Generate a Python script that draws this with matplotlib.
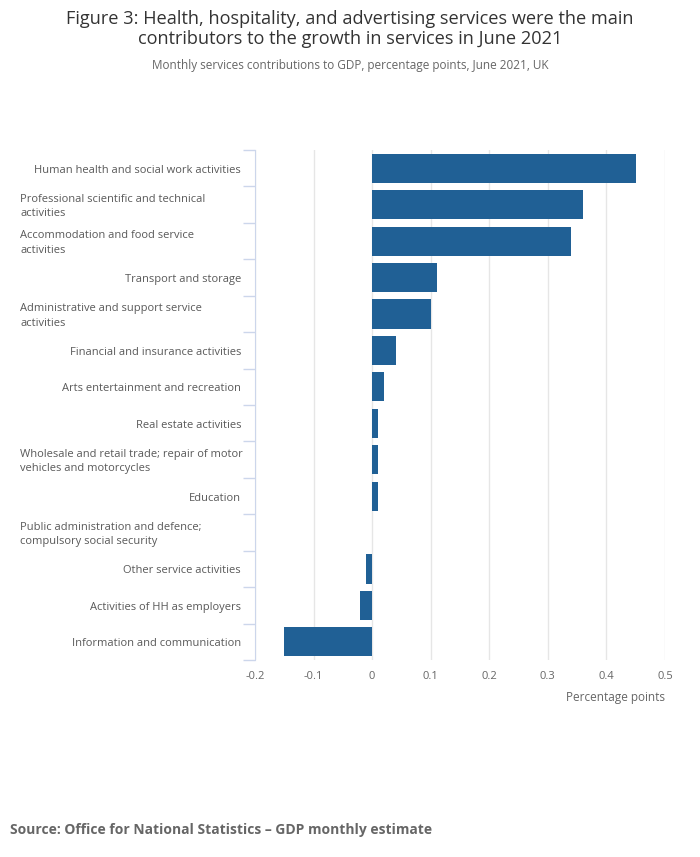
import matplotlib.pyplot as plt
from matplotlib import transforms
import numpy as np

plt.rcParams['font.family'] = ['Open Sans', 'DejaVu Sans']

industries = [
    "Human health and social work activities",
    "Professional scientific and technical\nactivities",
    "Accommodation and food service\nactivities",
    "Transport and storage",
    "Administrative and support service\nactivities",
    "Financial and insurance activities",
    "Arts entertainment and recreation",
    "Real estate activities",
    "Wholesale and retail trade; repair of motor\nvehicles and motorcycles",
    "Education",
    "Public administration and defence;\ncompulsory social security",
    "Other service activities",
    "Activities of HH as employers",
    "Information and communication",
]
contributions = [0.45, 0.36, 0.34, 0.11, 0.10, 0.04, 0.02, 0.01, 0.01, 0.01, 0.0, -0.01, -0.02, -0.15]
x_ticks = [-0.2, -0.1, 0, 0.1, 0.2, 0.3, 0.4, 0.5]

fig = plt.figure(figsize=(7, 8.57), dpi=100)
ax = fig.add_axes([255 / 700, 1 - 660 / 857, 410 / 700, 510 / 857])

pos = np.arange(len(industries))
ax.barh(pos, contributions, height=0.8, color="#206095", zorder=3)
ax.set_ylim(len(industries) - 0.5, -0.5)
ax.set_xlim(-0.2, 0.5)

ax.set_xticks(x_ticks)
ax.set_xticklabels([f"{t:g}" for t in x_ticks], fontsize=8, color="#666666")
ax.tick_params(axis='x', length=0, pad=8)
ax.grid(axis='x', color="#e6e6e6", linewidth=1, zorder=0)

# category ticks sit on the boundaries between bars
ax.set_yticks(np.arange(len(industries) + 1) - 0.5)
ax.set_yticklabels([])
ax.tick_params(axis='y', length=9, color="#ccd6eb", width=1)

for s in ['top', 'right', 'bottom']:
    ax.spines[s].set_visible(False)
ax.spines['left'].set_color("#ccd6eb")

# labels: wrapped ones left-aligned, single-line ones right-aligned (nudged down 2px)
trans = ax.get_yaxis_transform() + transforms.ScaledTranslation(0, -2 / 100, fig.dpi_scale_trans)
for i, name in enumerate(industries):
    if "\n" in name:
        ax.text((20 - 255) / 410, i, name, fontsize=8, color="#595959", ha='left', va='center',
                linespacing=1.45, transform=trans)
    else:
        ax.text((241 - 255) / 410, i, name, fontsize=8, color="#595959", ha='right', va='center',
                transform=trans)

fig.text(665 / 700, 1 - 697 / 857, "Percentage points", fontsize=8.5, color="#666666",
         ha='right', va='center')

fig.text(0.5, 1 - 29 / 857,
         "Figure 3: Health, hospitality, and advertising services were the main\n"
         "contributors to the growth in services in June 2021",
         fontsize=13.1, color="#333333", ha='center', va='center', linespacing=1.1)
fig.text(0.5, 1 - 65 / 857, "Monthly services contributions to GDP, percentage points, June 2021, UK",
         fontsize=8.5, color="#666666", ha='center', va='center')
fig.text(10 / 700, 1 - 830 / 857, "Source: Office for National Statistics \u2013 GDP monthly estimate",
         fontsize=10, fontweight='bold', color="#666666", ha='left', va='center')

fig.savefig("out.png", dpi=100)
